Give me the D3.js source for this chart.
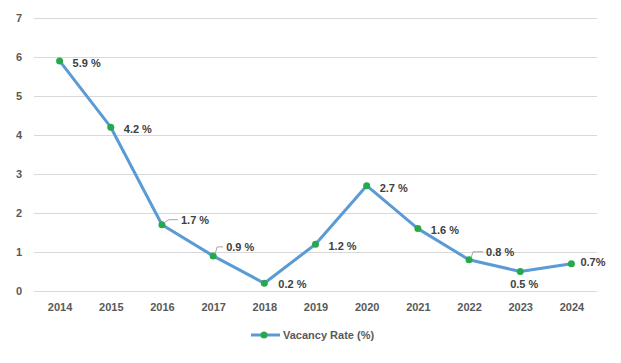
<!DOCTYPE html>
<html>
<head>
<meta charset="utf-8">
<script src="https://cdn.jsdelivr.net/npm/d3@7"></script>
<style>
  body { margin: 0; background: #fff; }
  svg { font-family: "Liberation Sans", Arial, sans-serif; font-weight: bold; }
  .tick text { fill: #595959; font-size: 11px; }
  .grid line { stroke: #d9d9d9; stroke-width: 1; }
  .rate { fill: none; stroke: #5b9bd5; stroke-width: 3; stroke-linejoin: round; }
  .dot { fill: #25a94a; }
  .lbl { fill: #404040; font-size: 11px; }
  .leader { fill: none; stroke: #a6a6a6; stroke-width: 1; }
</style>
</head>
<body>
<svg width="621" height="363"></svg>
<script>
const years = ["2014", "2015", "2016", "2017", "2018", "2019", "2020", "2021", "2022", "2023", "2024"];
const rates = [5.9, 4.2, 1.7, 0.9, 0.2, 1.2, 2.7, 1.6, 0.8, 0.5, 0.7];
const labels = ["5.9 %", "4.2 %", "1.7 %", "0.9 %", "0.2 %", "1.2 %", "2.7 %", "1.6 %", "0.8 %", "0.5 %", "0.7%"];
const yTicks = [0, 1, 2, 3, 4, 5, 6, 7];
const seriesName = "Vacancy Rate (%)";

const svg = d3.select("svg");

const plotLeft = 34, plotRight = 597, plotTop = 18, plotBottom = 291;

const x = d3.scalePoint().domain(years).range([plotLeft, plotRight]).padding(0.5);
const y = d3.scaleLinear().domain([0, 7]).range([plotBottom, plotTop]);

// gridlines + y labels
const yAxis = svg.append("g")
  .attr("class", "grid")
  .attr("transform", `translate(${plotLeft},0)`)
  .call(d3.axisLeft(y).tickValues(yTicks).tickFormat(d3.format("d"))
    .tickSize(-(plotRight - plotLeft)).tickPadding(12));
yAxis.select(".domain").remove();

// x labels
const xAxis = svg.append("g")
  .attr("transform", `translate(0,${plotBottom})`)
  .call(d3.axisBottom(x).tickSize(0).tickPadding(12));
xAxis.select(".domain").remove();

const data = years.map((yr, i) => ({ year: yr, rate: rates[i], label: labels[i] }));

const line = d3.line()
  .x(d => x(d.year))
  .y(d => y(d.rate));

svg.append("path")
  .datum(data)
  .attr("class", "rate")
  .attr("d", line);

svg.selectAll("circle.dot")
  .data(data)
  .enter()
  .append("circle")
  .attr("class", "dot")
  .attr("cx", d => x(d.year))
  .attr("cy", d => y(d.rate))
  .attr("r", 3.5);

// label placement: [dx, dy, anchor, leader]
const place = [
  [13, 2, "start", null],
  [13, 2, "start", null],
  [19, -5, "start", "diag"],
  [13, -9, "start", "up"],
  [14, 1, "start", null],
  [13, 2, "start", null],
  [13, 2, "start", null],
  [13, 2, "start", null],
  [17, -8, "start", "up"],
  [4, 13, "middle", null],
  [9, -2, "start", null]
];

data.forEach((d, i) => {
  const px = x(d.year), py = y(d.rate);
  const [dx, dy, anchor, leader] = place[i];
  if (leader === "diag") {
    svg.append("path").attr("class", "leader")
      .attr("d", `M${px + 2},${py - 2}L${px + 7},${py + dy}L${px + dx - 3},${py + dy}`);
  } else if (leader === "up") {
    svg.append("path").attr("class", "leader")
      .attr("d", `M${px + 2},${py - 2}L${px + 4},${py + dy}L${px + dx - 3},${py + dy}`);
  }
  svg.append("text")
    .attr("class", "lbl")
    .attr("x", px + dx)
    .attr("y", py + dy)
    .attr("dy", "0.35em")
    .attr("text-anchor", anchor)
    .text(d.label);
});

// legend
const legend = svg.append("g").attr("transform", "translate(251,335)");
legend.append("line")
  .attr("x1", 0).attr("x2", 29).attr("y1", 0).attr("y2", 0)
  .attr("stroke", "#5b9bd5").attr("stroke-width", 3);
legend.append("circle").attr("class", "dot").attr("cx", 13).attr("cy", 0).attr("r", 3.5);
legend.append("text")
  .attr("x", 32).attr("y", 0).attr("dy", "0.35em")
  .attr("fill", "#595959").style("font-size", "11px")
  .text(seriesName);
</script>
</body>
</html>
